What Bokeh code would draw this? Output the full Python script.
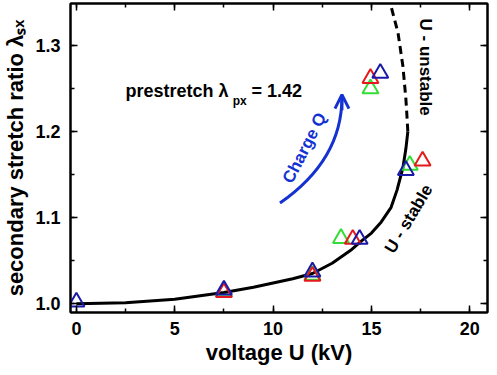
import math
from bokeh.plotting import figure
from bokeh.models import (Range1d, SingleIntervalTicker, NumeralTickFormatter, LinearAxis,
                          Label, Arrow, OpenHead, CustomJSTickFormatter)
from bokeh.embed import file_html
from bokeh.resources import INLINE

# ---- data ----
stable_U = [0, 2.5, 5, 7.5, 9, 10, 11, 12, 13, 14, 14.5, 15, 15.5, 16, 16.3, 16.6, 16.75, 16.85]
stable_L = [1.000, 1.001, 1.005, 1.013, 1.019, 1.024, 1.029, 1.035, 1.047, 1.063, 1.073, 1.082,
            1.095, 1.112, 1.132, 1.158, 1.180, 1.200]
unstable_U = [16.85, 16.8, 16.75, 16.6, 16.35, 15.95]
unstable_L = [1.200, 1.220, 1.238, 1.276, 1.315, 1.350]

red_U = [7.5, 12, 14.05, 14.95, 17.6]
red_L = [1.013, 1.032, 1.075, 1.262, 1.166]
green_U = [7.5, 12, 13.45, 14.95, 16.95]
green_L = [1.014, 1.033, 1.076, 1.250, 1.161]
blue_U = [0, 7.5, 12, 14.4, 15.45, 16.75]
blue_L = [1.002, 1.016, 1.037, 1.075, 1.268, 1.155]

x_ticks_interval = 5
y_ticks_interval = 0.1

RED = "#e41a1c"
GREEN = "#33dd33"
BLUE = "#1a1aa8"
ARROW_BLUE = "#1432d2"
FONT = "Liberation Sans"

p = figure(width=489, height=367, x_range=Range1d(-0.3, 20.9), y_range=Range1d(0.98969, 1.349),
           output_backend="svg", toolbar_location=None,
           min_border_left=69, min_border_right=2, min_border_top=3, min_border_bottom=52)
p.grid.visible = False
p.outline_line_color = "black"
p.outline_line_width = 2
p.background_fill_color = "white"
p.border_fill_color = "white"

def style_axis(ax, labels=True):
    ax.major_tick_in = 7
    ax.major_tick_out = 0
    ax.minor_tick_in = 4
    ax.minor_tick_out = 0
    ax.major_tick_line_width = 1.5
    ax.minor_tick_line_width = 1.5
    ax.axis_line_width = 2
    ax.axis_line_color = "black"
    ax.major_tick_line_color = "black"
    ax.minor_tick_line_color = "black"
    if labels:
        ax.major_label_text_font = FONT
        ax.major_label_text_font_style = "bold"
        ax.major_label_text_font_size = "18px"
        ax.major_label_text_color = "black"
        ax.major_label_standoff = 9
        ax.axis_label_text_font = FONT
        ax.axis_label_text_font_style = "bold"
        ax.axis_label_text_font_size = "22px"
        ax.axis_label_text_color = "black"
    else:
        ax.formatter = CustomJSTickFormatter(code="return ''")
        ax.major_label_text_font_size = "0px"
        ax.major_label_standoff = 0

xb = p.below[0]
xb.ticker = SingleIntervalTicker(interval=x_ticks_interval, num_minor_ticks=2)
style_axis(xb)
xb.axis_label = "voltage U (kV)"
xb.axis_label_standoff = 2

yl = p.left[0]
yl.ticker = SingleIntervalTicker(interval=y_ticks_interval, num_minor_ticks=2)
yl.formatter = NumeralTickFormatter(format="0.0")
style_axis(yl)
yl.major_label_standoff = 10
yl.axis_label = "secondary stretch ratio λₛₓ"
yl.axis_label_standoff = 4

xt = LinearAxis(ticker=SingleIntervalTicker(interval=x_ticks_interval, num_minor_ticks=2))
style_axis(xt, labels=False)
p.add_layout(xt, "above")
yr = LinearAxis(ticker=SingleIntervalTicker(interval=y_ticks_interval, num_minor_ticks=2))
style_axis(yr, labels=False)
p.add_layout(yr, "right")

# model curves
p.line(stable_U, stable_L, line_color="black", line_width=3)
p.line(unstable_U, unstable_L, line_color="black", line_width=3, line_dash="8 5")

# measured points
for U, L, c in [(green_U, green_L, GREEN), (red_U, red_L, RED), (blue_U, blue_L, BLUE)]:
    p.scatter(U, L, marker="triangle", size=16, fill_alpha=0, line_color=c, line_width=2)

# charge arrow
p.quadratic(x0=[10.35], y0=[1.117], x1=[13.5], y1=[1.240], cx=[13.5], cy=[1.167],
            line_color=ARROW_BLUE, line_width=3)
p.add_layout(Arrow(end=OpenHead(size=14, line_color=ARROW_BLUE, line_width=3),
                   x_start=13.5, y_start=1.225, x_end=13.5, y_end=1.243,
                   line_color=ARROW_BLUE, line_width=3))

def lab(**kw):
    base = dict(text_font=FONT, text_font_style="bold", text_color="black")
    base.update(kw)
    p.add_layout(Label(**base))

lab(x=11.6, y=1.181, text="Charge Q", angle=math.radians(63), text_align="center",
    text_baseline="middle", text_font_size="17px", text_color=ARROW_BLUE)
lab(x=2.5, y=1.247, text="prestretch λ", text_font_size="18px", text_baseline="alphabetic")
lab(x=7.95, y=1.236, text="px", text_font_size="12px", text_baseline="alphabetic")
lab(x=8.9, y=1.247, text="= 1.42", text_font_size="18px", text_baseline="alphabetic")
lab(x=17.75, y=1.275, text="U - unstable", angle=-math.pi / 2, text_align="center",
    text_baseline="middle", text_font_size="17px")
lab(x=16.9, y=1.0985, text="U - stable", angle=math.radians(59), text_align="center",
    text_baseline="middle", text_font_size="17px")

open("out.html", "w").write(file_html(p, INLINE))
